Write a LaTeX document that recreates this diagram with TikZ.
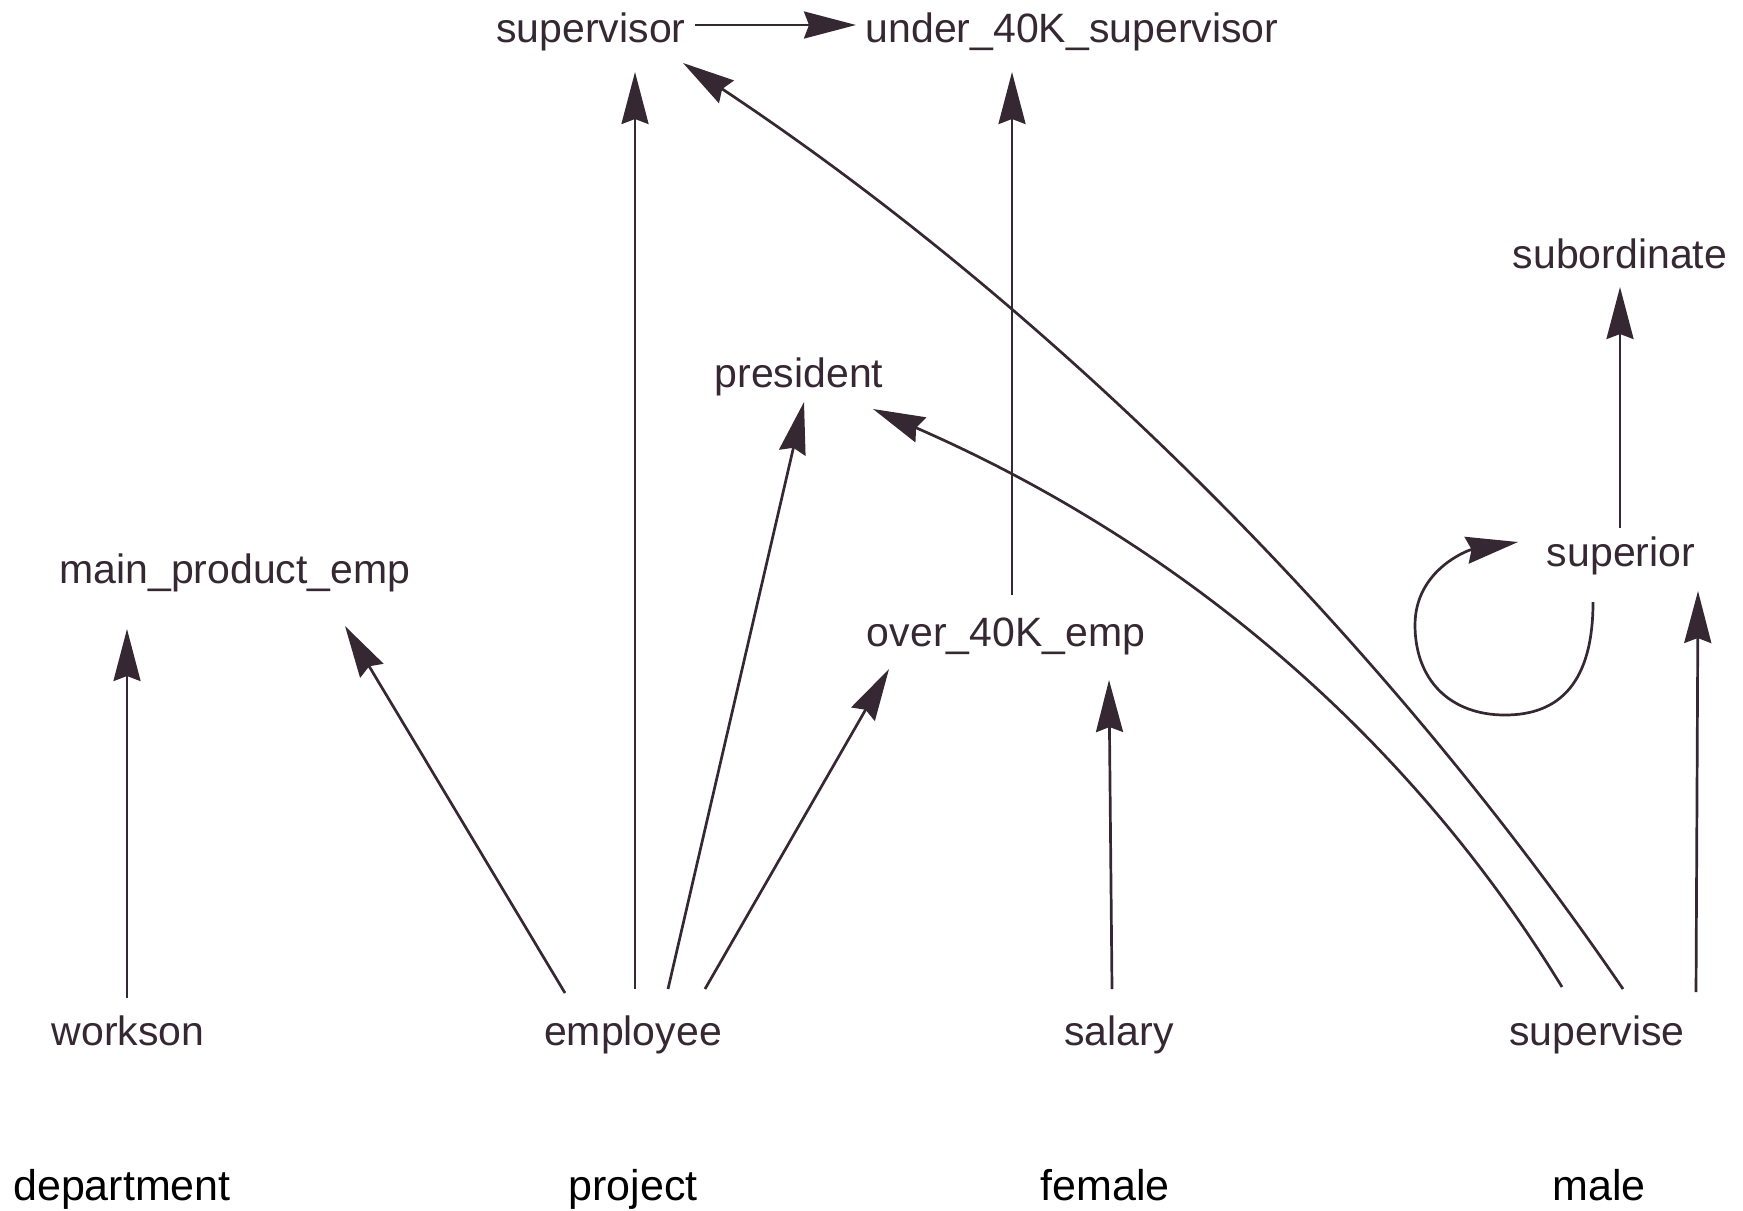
\documentclass[tikz,border=0pt]{standalone}
\usepackage{fontspec}
\setmainfont{Liberation Sans}
\usetikzlibrary{arrows.meta}
\definecolor{ink}{RGB}{54,40,50}
\begin{document}
\begin{tikzpicture}[x=0.5pt,y=-0.5pt,
  lbl/.style={anchor=base,inner sep=0pt,text=ink,font=\fontsize{20.5}{24}\selectfont},
  ext/.style={anchor=base,inner sep=0pt,text=black,font=\fontsize{21.5}{26}\selectfont},
  conn/.style={draw=ink,line width=1.35pt,-{Stealth[length=26pt,width=13.5pt,inset=2.5pt]}}]
\useasboundingbox (0,0) rectangle (1743,1210);
% nodes
\node[lbl] (supervisor) at (591,42) {supervisor};
\node[lbl] (under) at (1072,42) {under\_40K\_supervisor};
\node[lbl] (subordinate) at (1620,268) {subordinate};
\node[lbl] (president) at (799,387) {president};
\node[lbl] (mpe) at (235,583) {main\_product\_emp};
\node[lbl] (superior) at (1621,566) {superior};
\node[lbl] (over) at (1006,646) {over\_40K\_emp};
\node[lbl] (workson) at (128,1045) {workson};
\node[lbl] (employee) at (633,1045) {employee};
\node[lbl] (salary) at (1119,1045) {salary};
\node[lbl] (supervise) at (1597,1045) {supervise};
\node[ext] (department) at (122,1200) {department};
\node[ext] (project) at (633,1200) {project};
\node[ext] (female) at (1105,1200) {female};
\node[ext] (male) at (1599,1200) {male};
% connectors
\draw[conn] ([shift={(104,-17)}]supervisor.base) -- ([shift={(-216,-17)}]under.base);
\draw[conn] ([shift={(2,-56)}]employee.base) -- ([shift={(44,30)}]supervisor.base);
\draw[conn] ([shift={(26,-56)}]supervise.base) .. controls ([shift={(-220,-416)}]supervise.base) and ([shift={(454,261)}]supervisor.base) .. ([shift={(92,21)}]supervisor.base);
\draw[conn] ([shift={(6,-51)}]over.base) -- ([shift={(-60,30)}]under.base);
\draw[conn] ([shift={(-1,-38)}]superior.base) -- ([shift={(0,19)}]subordinate.base);
\draw[conn] ([shift={(35,-56)}]employee.base) -- ([shift={(5,15)}]president.base);
\draw[conn] ([shift={(-35,-58)}]supervise.base) .. controls ([shift={(-199,-326)}]supervise.base) and ([shift={(363,148)}]president.base) .. ([shift={(74,22)}]president.base);
\draw[conn] ([shift={(-28,36)}]superior.base) .. controls +(0,80) and +(55,0) .. ([shift={(-116,149)}]superior.base)
  .. controls +(-55,0) and +(0,55) .. ([shift={(-206,59)}]superior.base)
  .. controls +(0,-55) and +(-50,8) .. ([shift={(-103,-24)}]superior.base);
\draw[conn] ([shift={(-68,-52)}]employee.base) -- ([shift={(110,43)}]mpe.base);
\draw[conn] ([shift={(-1,-47)}]workson.base) -- ([shift={(-108,46)}]mpe.base);
\draw[conn] ([shift={(72,-56)}]employee.base) -- ([shift={(-117,23)}]over.base);
\draw[conn] ([shift={(-7,-56)}]salary.base) -- ([shift={(103,34)}]over.base);
\draw[conn] ([shift={(99,-53)}]supervise.base) -- ([shift={(77,25)}]superior.base);
\end{tikzpicture}
\end{document}
